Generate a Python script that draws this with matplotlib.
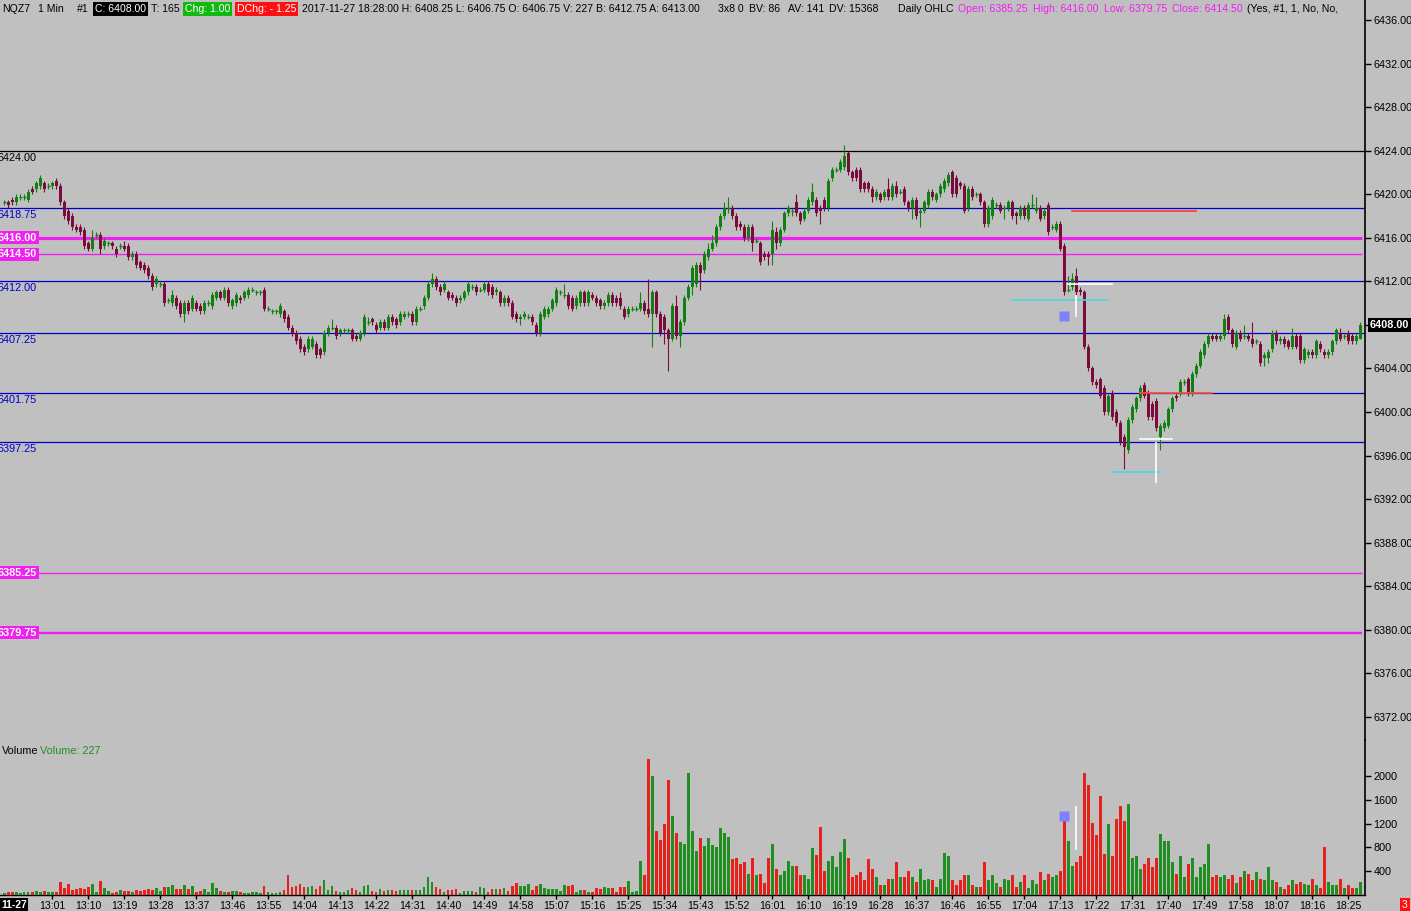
import numpy as np
import matplotlib
matplotlib.use('Agg')
import matplotlib.pyplot as plt
from matplotlib.transforms import blended_transform_factory, offset_copy

plt.rcParams['font.family'] = ['Liberation Sans', 'DejaVu Sans']

# NQZ7 1-minute bars, 12:49 .. 18:28 (2017-11-27)
opens = [
    6419.25, 6419.25, 6419.5, 6419.25, 6419.75, 6419.75, 6419.5, 6420.5, 6420.5, 6420.75,
    6421.0, 6420.75, 6420.75, 6421.25, 6420.75, 6419.25, 6418.5, 6418.0, 6417.0, 6417.0,
    6416.75, 6415.5, 6415.0, 6416.25, 6416.25, 6415.25, 6415.5, 6415.5, 6415.0, 6415.25,
    6415.25, 6415.25, 6414.25, 6414.5, 6413.75, 6413.5, 6413.25, 6412.5, 6411.75, 6411.75,
    6411.75, 6410.25, 6410.0, 6410.5, 6410.0, 6409.0, 6410.0, 6409.5, 6410.0, 6409.75,
    6409.25, 6410.0, 6409.75, 6410.5, 6411.0, 6410.5, 6411.25, 6409.75, 6410.0, 6410.5,
    6410.5, 6410.75, 6411.25, 6411.0, 6411.0, 6411.25, 6409.5, 6409.25, 6409.25, 6409.0,
    6409.25, 6408.75, 6407.75, 6407.25, 6406.75, 6406.0, 6405.75, 6406.0, 6406.25, 6405.75,
    6405.5, 6407.25, 6407.75, 6407.75, 6407.25, 6407.5, 6407.5, 6407.5, 6407.0, 6406.75,
    6407.25, 6408.25, 6408.5, 6408.0, 6407.75, 6408.25, 6407.75, 6408.75, 6408.5, 6408.25,
    6408.75, 6409.0, 6409.0, 6408.25, 6409.5, 6409.75, 6410.5, 6411.75, 6412.25, 6411.5,
    6411.25, 6411.0, 6410.75, 6410.5, 6410.25, 6410.5, 6411.0, 6411.5, 6411.5, 6411.25,
    6411.25, 6411.75, 6411.5, 6411.0, 6411.0, 6410.0, 6410.5, 6410.0, 6409.0, 6408.5,
    6408.75, 6408.75, 6408.75, 6408.0, 6407.25, 6408.75, 6409.0, 6409.5, 6410.0, 6411.0,
    6410.75, 6410.75, 6410.5, 6409.75, 6410.0, 6411.0, 6410.0, 6410.75, 6410.5, 6410.25,
    6409.75, 6410.0, 6410.75, 6410.5, 6410.5, 6409.5, 6409.0, 6409.5, 6409.5, 6409.5,
    6410.0, 6409.5, 6409.0, 6411.0, 6409.0, 6408.75, 6407.5, 6406.75, 6409.75, 6407.0,
    6408.25, 6410.5, 6411.5, 6411.75, 6413.5, 6413.0, 6414.25, 6415.0, 6415.5, 6417.0,
    6418.0, 6418.75, 6418.75, 6418.0, 6417.25, 6417.0, 6416.0, 6417.0, 6415.75, 6415.5,
    6414.5, 6414.5, 6414.5, 6416.5, 6415.5, 6416.75, 6418.25, 6418.5, 6419.25, 6418.25,
    6417.75, 6418.5, 6419.25, 6419.5, 6418.75, 6419.5, 6418.75, 6421.5, 6422.25, 6422.25,
    6422.5, 6423.75, 6422.0, 6422.25, 6422.25, 6421.0, 6421.0, 6420.5, 6419.75, 6420.0,
    6419.75, 6420.5, 6419.75, 6420.75, 6420.25, 6420.5, 6419.25, 6418.75, 6419.5, 6418.25,
    6418.5, 6419.0, 6420.25, 6419.5, 6420.0, 6420.5, 6421.0, 6422.0, 6421.5, 6421.0,
    6420.75, 6418.75, 6420.5, 6420.0, 6420.0, 6419.25, 6417.25, 6418.0, 6419.0, 6419.0,
    6418.75, 6418.75, 6419.25, 6418.25, 6418.0, 6418.75, 6417.75, 6419.0, 6418.5, 6418.75,
    6418.0, 6419.0, 6417.0, 6416.75, 6417.25, 6415.25, 6411.25, 6411.5, 6412.5, 6411.25,
    6411.0, 6406.0, 6404.0, 6402.75, 6403.0, 6402.25, 6400.0, 6401.75, 6400.0, 6399.0,
    6397.75, 6396.5, 6399.25, 6400.25, 6401.25, 6402.5, 6401.75, 6400.75, 6401.0, 6397.75,
    6398.5, 6398.75, 6400.25, 6401.5, 6401.75, 6402.75, 6403.0, 6401.75, 6403.5, 6404.25,
    6405.25, 6406.25, 6407.0, 6407.0, 6406.75, 6407.0, 6408.75, 6407.5, 6406.0, 6407.25,
    6407.0, 6407.0, 6406.75, 6406.5, 6406.25, 6405.0, 6405.0, 6405.75, 6407.25, 6406.5,
    6406.75, 6406.5, 6406.0, 6407.0, 6407.0, 6404.75, 6405.25, 6405.5, 6405.25, 6406.25,
    6405.5, 6405.25, 6405.5, 6406.5, 6407.25, 6407.0, 6407.25, 6407.0, 6406.5, 6406.75,
]
closes = [
    6419.25, 6419.0, 6419.25, 6419.75, 6419.75, 6419.75, 6420.25, 6420.25, 6421.0, 6421.5,
    6420.5, 6420.75, 6421.0, 6420.75, 6419.25, 6418.0, 6417.5, 6417.0, 6416.75, 6416.5,
    6415.25, 6415.0, 6416.0, 6416.25, 6415.0, 6415.75, 6415.5, 6415.25, 6414.5, 6415.25,
    6415.0, 6414.25, 6414.5, 6413.5, 6413.25, 6413.0, 6412.5, 6411.5, 6412.25, 6411.75,
    6410.0, 6410.25, 6410.75, 6409.75, 6409.0, 6410.0, 6409.25, 6410.5, 6409.5, 6409.25,
    6410.0, 6410.0, 6410.75, 6411.0, 6410.5, 6411.25, 6410.0, 6410.25, 6410.75, 6410.25,
    6411.0, 6411.25, 6411.25, 6411.0, 6411.0, 6409.5, 6409.5, 6409.25, 6409.25, 6409.75,
    6408.5, 6407.75, 6407.25, 6406.5, 6405.75, 6405.5, 6406.75, 6406.75, 6405.25, 6405.25,
    6407.25, 6407.75, 6407.75, 6407.0, 6407.5, 6407.5, 6407.5, 6406.75, 6406.75, 6407.25,
    6408.75, 6408.25, 6408.25, 6407.5, 6408.25, 6407.75, 6408.75, 6408.25, 6408.0, 6409.0,
    6409.0, 6409.0, 6408.25, 6409.5, 6409.5, 6410.5, 6411.75, 6412.25, 6411.5, 6411.0,
    6411.75, 6410.5, 6410.5, 6410.0, 6410.5, 6411.0, 6411.75, 6411.5, 6411.0, 6411.25,
    6411.75, 6411.0, 6410.75, 6411.25, 6410.0, 6410.5, 6410.0, 6408.75, 6408.5, 6408.75,
    6409.0, 6408.75, 6408.25, 6407.25, 6409.0, 6409.5, 6409.5, 6410.25, 6411.25, 6411.0,
    6410.75, 6409.75, 6409.5, 6410.5, 6411.0, 6410.0, 6411.0, 6410.5, 6410.0, 6409.75,
    6410.0, 6410.75, 6410.0, 6410.0, 6409.75, 6408.75, 6409.5, 6409.5, 6409.5, 6410.0,
    6409.25, 6409.0, 6411.0, 6409.0, 6407.25, 6407.5, 6406.75, 6409.75, 6407.0, 6408.25,
    6410.5, 6411.5, 6413.25, 6413.5, 6412.75, 6414.5, 6415.0, 6415.5, 6417.0, 6418.0,
    6418.75, 6418.75, 6418.0, 6417.0, 6417.0, 6416.0, 6417.0, 6415.5, 6415.75, 6413.75,
    6414.25, 6414.25, 6416.75, 6415.5, 6416.75, 6418.25, 6418.75, 6418.5, 6418.25, 6417.5,
    6418.5, 6419.5, 6420.25, 6418.25, 6418.5, 6418.75, 6421.25, 6422.25, 6422.25, 6423.0,
    6423.5, 6422.0, 6421.5, 6421.5, 6420.5, 6420.5, 6420.5, 6419.75, 6420.25, 6419.5,
    6420.25, 6419.75, 6420.75, 6420.0, 6420.25, 6419.25, 6418.75, 6419.5, 6418.0, 6418.5,
    6419.25, 6420.25, 6419.75, 6420.0, 6420.75, 6421.25, 6421.75, 6420.0, 6420.0, 6420.75,
    6418.5, 6420.5, 6419.75, 6420.0, 6419.25, 6417.25, 6418.75, 6419.5, 6419.0, 6418.5,
    6418.75, 6419.25, 6418.0, 6418.0, 6418.75, 6418.0, 6419.0, 6419.0, 6418.75, 6417.75,
    6418.5, 6416.5, 6417.0, 6417.25, 6415.0, 6411.0, 6411.25, 6412.25, 6411.0, 6411.0,
    6406.0, 6404.0, 6402.75, 6402.5, 6401.5, 6400.0, 6401.5, 6399.5, 6399.0, 6397.25,
    6396.75, 6399.25, 6400.5, 6401.25, 6402.25, 6401.5, 6399.5, 6399.5, 6398.5, 6398.75,
    6399.0, 6400.25, 6401.25, 6401.25, 6402.75, 6402.75, 6401.75, 6403.5, 6404.25, 6405.5,
    6406.25, 6407.0, 6406.75, 6406.75, 6407.0, 6408.5, 6407.5, 6406.25, 6407.25, 6406.75,
    6407.0, 6406.75, 6406.25, 6406.5, 6404.5, 6405.25, 6405.5, 6407.25, 6406.5, 6406.75,
    6406.25, 6406.0, 6407.0, 6406.0, 6404.75, 6405.75, 6405.5, 6405.25, 6406.5, 6405.75,
    6405.25, 6405.5, 6406.5, 6407.5, 6406.75, 6407.0, 6406.5, 6406.5, 6407.0, 6408.0,
]
highs = [
    6419.5, 6419.5, 6419.75, 6420.0, 6420.0, 6420.0, 6420.5, 6420.75, 6421.25, 6421.75,
    6421.25, 6421.0, 6421.25, 6421.5, 6421.0, 6419.5, 6418.75, 6418.25, 6417.25, 6417.25,
    6417.0, 6415.75, 6416.75, 6416.5, 6416.5, 6416.0, 6415.75, 6415.75, 6415.25, 6415.5,
    6415.75, 6415.5, 6414.75, 6414.75, 6414.0, 6413.75, 6413.5, 6412.75, 6412.5, 6412.0,
    6412.0, 6410.5, 6411.25, 6410.75, 6410.25, 6410.25, 6410.25, 6410.75, 6410.25, 6410.0,
    6410.25, 6410.25, 6411.0, 6411.25, 6411.25, 6411.5, 6411.5, 6410.5, 6411.0, 6410.75,
    6411.25, 6411.5, 6411.5, 6411.25, 6411.25, 6411.5, 6409.75, 6409.5, 6409.5, 6410.0,
    6409.5, 6409.0, 6408.0, 6407.5, 6407.0, 6406.25, 6407.0, 6407.0, 6406.5, 6406.0,
    6407.5, 6408.0, 6408.5, 6408.0, 6407.75, 6407.75, 6407.75, 6407.75, 6407.25, 6407.5,
    6409.0, 6408.75, 6408.75, 6408.25, 6408.5, 6408.5, 6409.0, 6409.0, 6408.75, 6409.25,
    6409.25, 6409.25, 6409.25, 6409.75, 6409.75, 6410.75, 6412.0, 6412.75, 6412.5, 6411.75,
    6412.0, 6411.25, 6411.0, 6410.75, 6410.75, 6411.25, 6412.0, 6411.75, 6411.75, 6411.5,
    6412.0, 6412.0, 6411.75, 6411.5, 6411.25, 6410.75, 6410.75, 6410.25, 6409.25, 6409.0,
    6409.25, 6409.0, 6409.0, 6408.25, 6409.25, 6409.75, 6409.75, 6410.5, 6411.5, 6411.25,
    6411.75, 6411.0, 6410.75, 6410.75, 6411.25, 6411.25, 6411.25, 6411.0, 6410.75, 6410.5,
    6410.25, 6411.0, 6411.0, 6410.75, 6411.0, 6409.75, 6409.75, 6409.75, 6409.75, 6411.0,
    6410.25, 6412.25, 6411.25, 6411.25, 6409.25, 6409.0, 6407.75, 6410.0, 6410.75, 6408.5,
    6410.75, 6411.75, 6413.5, 6413.75, 6413.75, 6414.75, 6415.5, 6416.25, 6417.25, 6418.25,
    6419.25, 6419.75, 6419.0, 6418.25, 6417.5, 6417.25, 6417.25, 6417.25, 6416.0, 6415.75,
    6414.75, 6414.75, 6417.5, 6417.0, 6417.0, 6418.5, 6419.0, 6418.75, 6420.0, 6418.5,
    6418.75, 6419.75, 6421.0, 6419.75, 6419.0, 6419.75, 6421.5, 6422.5, 6422.5, 6423.25,
    6424.5, 6424.0, 6422.25, 6422.5, 6422.5, 6421.25, 6421.25, 6420.75, 6420.5, 6420.25,
    6420.5, 6421.5, 6421.0, 6421.25, 6420.5, 6420.75, 6419.5, 6419.75, 6419.75, 6418.75,
    6419.5, 6420.5, 6420.5, 6420.25, 6421.0, 6421.5, 6422.0, 6422.25, 6421.75, 6421.25,
    6421.0, 6420.75, 6420.75, 6420.25, 6420.25, 6419.5, 6419.0, 6419.75, 6419.25, 6419.25,
    6419.0, 6419.5, 6419.5, 6418.5, 6419.0, 6419.0, 6419.25, 6420.0, 6419.75, 6419.0,
    6418.75, 6419.25, 6417.25, 6417.5, 6417.5, 6415.5, 6412.5, 6412.75, 6413.25, 6411.5,
    6411.25, 6406.25, 6404.25, 6403.0, 6403.25, 6402.5, 6401.75, 6402.0, 6400.25, 6399.25,
    6398.0, 6399.5, 6400.75, 6401.5, 6402.5, 6402.75, 6402.0, 6401.0, 6401.25, 6399.0,
    6399.25, 6400.5, 6401.5, 6401.75, 6403.0, 6403.0, 6403.25, 6403.75, 6404.5, 6405.75,
    6406.5, 6407.25, 6407.25, 6407.25, 6407.25, 6409.0, 6409.0, 6407.75, 6407.5, 6407.5,
    6408.0, 6407.25, 6408.25, 6406.75, 6406.5, 6405.5, 6405.75, 6407.5, 6407.5, 6407.0,
    6407.0, 6406.75, 6407.75, 6407.25, 6407.25, 6406.0, 6405.75, 6405.75, 6406.75, 6406.5,
    6405.75, 6405.75, 6406.75, 6407.75, 6407.75, 6407.25, 6407.5, 6407.25, 6407.25, 6408.25,
]
lows = [
    6419.0, 6418.75, 6419.0, 6419.0, 6419.5, 6419.5, 6419.25, 6420.0, 6420.25, 6420.5,
    6420.25, 6420.5, 6420.5, 6420.5, 6419.0, 6417.75, 6417.25, 6416.75, 6416.5, 6416.25,
    6415.0, 6414.75, 6414.75, 6416.0, 6414.5, 6415.0, 6415.25, 6415.0, 6414.25, 6415.0,
    6414.75, 6414.0, 6414.0, 6413.25, 6413.0, 6412.75, 6412.25, 6411.25, 6411.5, 6411.5,
    6409.75, 6410.0, 6409.75, 6409.5, 6408.75, 6408.25, 6409.0, 6409.25, 6409.25, 6409.0,
    6409.0, 6409.75, 6409.5, 6410.25, 6410.25, 6410.25, 6409.75, 6409.5, 6409.75, 6410.0,
    6410.25, 6410.5, 6411.0, 6410.75, 6410.75, 6409.25, 6409.25, 6409.0, 6409.0, 6408.75,
    6408.25, 6407.5, 6407.0, 6406.25, 6405.5, 6405.25, 6405.5, 6405.75, 6405.0, 6405.0,
    6405.25, 6407.0, 6407.5, 6406.75, 6407.0, 6407.25, 6407.25, 6406.5, 6406.5, 6406.5,
    6407.0, 6408.0, 6408.0, 6407.25, 6407.5, 6407.5, 6407.5, 6408.0, 6407.75, 6408.0,
    6408.5, 6408.75, 6408.0, 6408.0, 6409.25, 6409.5, 6410.25, 6411.5, 6411.25, 6410.75,
    6411.0, 6410.25, 6410.25, 6409.75, 6410.0, 6410.25, 6410.75, 6411.25, 6410.75, 6411.0,
    6411.0, 6410.75, 6410.5, 6410.75, 6409.75, 6409.75, 6409.75, 6408.5, 6408.25, 6408.0,
    6408.5, 6408.5, 6408.0, 6407.0, 6407.0, 6408.5, 6408.75, 6409.25, 6409.75, 6410.75,
    6410.5, 6409.5, 6409.25, 6409.5, 6409.75, 6409.75, 6409.75, 6410.25, 6409.75, 6409.5,
    6409.5, 6409.75, 6409.75, 6409.75, 6409.5, 6408.5, 6408.75, 6409.25, 6409.25, 6409.25,
    6409.0, 6408.75, 6406.0, 6408.75, 6407.0, 6406.25, 6403.75, 6406.5, 6406.75, 6406.0,
    6408.0, 6410.25, 6410.75, 6411.5, 6411.25, 6412.75, 6414.0, 6414.75, 6415.25, 6416.75,
    6417.75, 6418.25, 6417.75, 6416.75, 6416.75, 6415.75, 6415.75, 6414.75, 6415.5, 6413.5,
    6414.0, 6413.5, 6413.5, 6415.0, 6415.25, 6416.5, 6418.0, 6418.0, 6418.0, 6417.25,
    6417.5, 6418.25, 6419.0, 6418.0, 6417.25, 6418.5, 6418.5, 6421.25, 6422.0, 6422.0,
    6422.25, 6421.75, 6421.25, 6421.25, 6420.25, 6420.25, 6420.25, 6419.25, 6419.5, 6419.25,
    6419.5, 6419.5, 6419.5, 6419.75, 6420.0, 6419.0, 6418.5, 6417.75, 6417.75, 6417.0,
    6418.25, 6418.75, 6419.5, 6419.25, 6419.75, 6420.25, 6420.75, 6419.75, 6419.75, 6420.5,
    6418.25, 6418.5, 6419.5, 6419.75, 6419.0, 6417.0, 6417.0, 6417.75, 6418.75, 6418.25,
    6417.75, 6418.5, 6417.75, 6417.25, 6417.75, 6417.75, 6417.5, 6418.75, 6418.25, 6417.5,
    6417.75, 6416.25, 6416.75, 6416.5, 6414.75, 6410.75, 6411.0, 6411.25, 6410.75, 6410.75,
    6405.75, 6403.75, 6402.5, 6402.25, 6401.25, 6399.75, 6399.75, 6399.25, 6398.75, 6397.0,
    6394.75, 6396.25, 6399.0, 6400.0, 6401.0, 6401.25, 6399.25, 6399.25, 6398.25, 6396.5,
    6398.25, 6398.5, 6400.0, 6401.0, 6401.5, 6402.5, 6401.5, 6401.5, 6403.25, 6404.0,
    6405.0, 6406.0, 6406.5, 6406.5, 6406.5, 6406.75, 6407.25, 6406.0, 6405.75, 6406.5,
    6406.75, 6406.5, 6406.0, 6406.25, 6404.25, 6404.25, 6404.5, 6405.5, 6406.25, 6406.25,
    6406.0, 6405.75, 6405.75, 6405.75, 6404.5, 6404.5, 6405.0, 6405.0, 6405.0, 6405.5,
    6405.0, 6405.0, 6405.25, 6406.25, 6406.5, 6406.75, 6406.25, 6406.25, 6406.25, 6406.75,
]
volumes = [
    40, 55, 45, 50, 40, 55, 45, 50, 60, 55,
    60, 50, 45, 50, 225, 110, 185, 85, 95, 125,
    95, 140, 185, 55, 240, 125, 65, 40, 55, 85,
    75, 75, 55, 85, 75, 85, 105, 85, 120, 75,
    140, 140, 170, 105, 105, 170, 105, 150, 55, 75,
    105, 55, 195, 125, 65, 55, 55, 65, 65, 55,
    40, 40, 50, 50, 40, 150, 55, 40, 40, 55,
    85, 335, 140, 150, 185, 140, 140, 150, 105, 150,
    250, 85, 150, 75, 55, 55, 85, 120, 85, 55,
    155, 170, 75, 55, 100, 75, 85, 85, 75, 80,
    85, 85, 85, 85, 85, 140, 310, 225, 140, 100,
    55, 85, 85, 100, 40, 65, 65, 65, 55, 130,
    120, 55, 95, 105, 95, 110, 75, 150, 195, 150,
    150, 185, 85, 150, 185, 120, 95, 105, 105, 65,
    170, 150, 170, 55, 85, 85, 55, 55, 110, 95,
    130, 125, 125, 55, 130, 140, 235, 55, 75, 570,
    335, 2290, 2000, 1080, 925, 1195, 1940, 1330, 1050, 900,
    860, 2050, 1080, 745, 965, 825, 965, 835, 810, 1135,
    1040, 970, 600, 615, 515, 550, 360, 615, 345, 360,
    205, 630, 855, 430, 330, 410, 565, 480, 480, 345,
    330, 275, 795, 680, 1150, 410, 565, 650, 465, 720,
    940, 615, 295, 330, 380, 245, 600, 430, 295, 160,
    175, 275, 275, 550, 310, 295, 410, 295, 225, 430,
    245, 275, 260, 140, 275, 700, 650, 260, 175, 245,
    330, 345, 175, 140, 140, 550, 245, 330, 210, 140,
    275, 245, 330, 140, 225, 330, 125, 245, 190, 395,
    245, 360, 310, 330, 410, 1250, 910, 485, 550, 665,
    2055, 1855, 1210, 1005, 1670, 685, 1190, 650, 1275, 1495,
    1245, 1530, 630, 650, 430, 530, 615, 465, 630, 1020,
    905, 905, 550, 360, 665, 295, 515, 615, 310, 465,
    530, 855, 310, 330, 310, 345, 275, 345, 210, 310,
    410, 360, 260, 380, 275, 260, 465, 245, 225, 140,
    100, 160, 245, 190, 225, 190, 160, 275, 160, 125,
    800, 225, 160, 175, 275, 125, 175, 125, 125, 227,
]

time_ticks = list(range(12, 340, 9))
time_labels = ['%d:%02d' % divmod(12 * 60 + 49 + i, 60) for i in time_ticks]

blue_levels = [6418.75, 6412.00, 6407.25, 6401.75, 6397.25]
black_level = 6424.00
daily_levels = [6416.00, 6414.50, 6385.25, 6379.75]
daily_widths = [2.3, 1.0, 1.0, 1.7]

# trade marks drawn on the chart (bar index, price)
seg_x0 = [266.9, 265.9, 251.9, 283.9, 283.9, 276.9]
seg_x1 = [297.9, 276.9, 275.9, 301.9, 291.9, 288.9]
seg_y = [6418.5, 6411.75, 6410.25, 6401.75, 6397.5, 6394.5]
seg_colors = ['#ff3838', 'white', '#48d8e0', '#ff5030', 'white', '#48d8e0']
vert_x = [267.9, 287.9]
vert_lo = [6408.75, 6393.5]
vert_hi = [6410.75, 6397.25]
square_x, square_y, square_vol = 264.9, 6408.8, 1330
vol_mark_x, vol_mark_lo, vol_mark_hi = 267.9, 760, 1500

assert len(opens) == len(closes) == len(highs) == len(lows) == len(volumes) == 340

o = np.array(opens)
c = np.array(closes)
h = np.array(highs)
l = np.array(lows)
v = np.array(volumes)
x = np.arange(len(o))

BG = '#c0c0c0'
GREEN = '#118011'
MAROON = '#7a0c3c'
VGREEN = '#1f901f'
VRED = '#e8201c'
MAG = '#f020f0'
BLUE = '#0000c8'
FS = 7.8

W, H = 1411, 911
fig = plt.figure(figsize=(W / 100, H / 100), dpi=100, facecolor=BG)


def px_rect(x0, y0, x1, y1):
    return [x0 / W, 1 - y1 / H, (x1 - x0) / W, (y1 - y0) / H]


ax = fig.add_axes(px_rect(0, 0, 1365, 740), facecolor=BG)
axv = fig.add_axes(px_rect(0, 740, 1365, 895), facecolor=BG, sharex=ax)

xlim = (-1.1, 340.15)
ax.set_xlim(*xlim)
ax.set_ylim(6436 - 720 / 10.89, 6436 + 20 / 10.89)
axv.set_ylim(0, 155 * 16.84)

for a in (ax, axv):
    for s in a.spines.values():
        s.set_visible(False)
    a.spines['right'].set_visible(True)
    a.spines['right'].set_color('black')
    a.spines['right'].set_linewidth(1.2)
axv.spines['bottom'].set_visible(True)
axv.spines['bottom'].set_linewidth(1.0)

# level lines
ax.axhline(black_level, color='black', lw=0.9, zorder=1)
for lv in blue_levels:
    ax.axhline(lv, color=BLUE, lw=0.9, zorder=1)
for lv, lw in zip(daily_levels, daily_widths):
    ax.plot([xlim[0], 339.5], [lv, lv], color=MAG, lw=lw, zorder=1, solid_capstyle='butt')

# candles
up = c > o
flat = c == o
cols = np.where(up | flat, GREEN, MAROON)
ax.vlines(x, l, h, colors=cols, lw=0.8, zorder=3)
body = np.abs(c - o)
ax.bar(x[~flat], body[~flat], bottom=np.minimum(o, c)[~flat], width=0.75,
       color=cols[~flat], lw=0, zorder=4)
ax.hlines(c[flat], x[flat] - 0.4, x[flat] + 0.4, colors=cols[flat], lw=1.0, zorder=4)

# trade marks
for x0, x1, y, col in zip(seg_x0, seg_x1, seg_y, seg_colors):
    ax.plot([x0, x1], [y, y], color=col, lw=1.2, zorder=5)
ax.vlines(vert_x, vert_lo, vert_hi, colors='white', lw=1.2, zorder=5)
ax.plot([square_x], [square_y], marker='s', ms=7, color='#8080ff', mec='none', zorder=6)

# level labels at the left edge (first digit clipped by the window edge, as in the app)
lbl_tr = blended_transform_factory(ax.transAxes, ax.transData)
below = offset_copy(lbl_tr, fig=fig, x=-2, y=-7, units='dots')
ax.text(0, black_level, '%.2f' % black_level, transform=below, ha='left', va='center',
        fontsize=FS, color='black', zorder=7)
for lv in blue_levels:
    ax.text(0, lv, '%.2f' % lv, transform=below, ha='left', va='center',
            fontsize=FS, color=BLUE, zorder=7)
shift = offset_copy(lbl_tr, fig=fig, x=-2, y=0, units='dots')
for lv in daily_levels:
    ax.text(0, lv, '%.2f' % lv, transform=shift, ha='left', va='center', fontsize=FS,
            color='white', fontweight='bold', zorder=7,
            bbox=dict(boxstyle='square,pad=0.15', fc=MAG, ec='none'))

# price axis
price_ticks = np.arange(6372, 6437, 4)
ax.yaxis.tick_right()
ax.set_yticks(price_ticks)
ax.set_yticklabels(['' if t == c[-1] else '%.2f' % t for t in price_ticks])
ax.tick_params(axis='y', direction='out', length=4, width=1, pad=2, labelsize=FS,
               colors='black')
ax.tick_params(axis='x', bottom=False, labelbottom=False)
ax.text(1.0, c[-1], '%.2f' % c[-1],
        transform=offset_copy(lbl_tr, fig=fig, x=5, y=0, units='dots'),
        ha='left', va='center', fontsize=FS, color='white', fontweight='bold', zorder=8,
        bbox=dict(boxstyle='square,pad=0.15', fc='black', ec='none'), clip_on=False)

# volume
vcols = np.where(c >= o, VGREEN, VRED)
axv.bar(x, v, width=0.55, color=vcols, lw=0, zorder=3)
axv.plot([square_x], [square_vol], marker='s', ms=7, color='#8080ff', mec='none', zorder=6)
axv.vlines([vol_mark_x], [vol_mark_lo], [vol_mark_hi], colors='white', lw=1.2, zorder=5)
axv.yaxis.tick_right()
axv.set_yticks([400, 800, 1200, 1600, 2000])
axv.set_yticklabels(['400', '800', '1200', '1600', '2000'])
axv.tick_params(axis='y', direction='out', length=4, width=1, pad=2, labelsize=FS)
axv.set_xticks(time_ticks)
axv.set_xticklabels(time_labels)
axv.tick_params(axis='x', direction='out', length=3, width=1, pad=1, labelsize=7.6)
axv.text(2 / 1365, (895 - 751) / 155, 'Volume', transform=axv.transAxes, ha='left',
         va='center', fontsize=FS, color='black')
axv.text(40 / 1365, (895 - 751) / 155, 'Volume: %d' % v[-1], transform=axv.transAxes,
         ha='left', va='center', fontsize=FS, color=VGREEN)

fig.text(1 / W, 1 - 905 / H, '11-27', ha='left', va='center', fontsize=7.5, color='white',
         fontweight='bold', bbox=dict(boxstyle='square,pad=0.15', fc='black', ec='none'))
fig.text(1402 / W, 1 - 905 / H, '3', ha='left', va='center', fontsize=7.5, color='white',
         bbox=dict(boxstyle='square,pad=0.2', fc='#ff1010', ec='none'))

# header line: (left px in the reference, text, colour, box colour)
header = [
    (2, 'NQZ7', 'black', None), (38, '1 Min', 'black', None),
    (77, '#1', 'black', None), (95, 'C: 6408.00', 'white', 'black'),
    (151, 'T: 165', 'black', None), (185, 'Chg: 1.00', 'white', '#10b810'),
    (237, 'DChg: - 1.25', 'white', '#ff1010'),
    (300, '2017-11-27 18:28:00 H: 6408.25 L: 6406.75 O: 6406.75 V: 227 '
          'B: 6412.75 A: 6413.00', 'black', None),
    (718, '3x8 0', 'black', None), (747, 'BV: 86', 'black', None),
    (788, 'AV: 141', 'black', None), (829, 'DV: 15368', 'black', None),
    (898, 'Daily OHLC', 'black', None),
    (950, 'Open: 6385.25', MAG, None), (1015, 'High: 6416.00', MAG, None),
    (1083, 'Low: 6379.75', MAG, None), (1148, 'Close: 6414.50', MAG, None),
    (1222, '(Yes, #1, 1, No, No,', 'black', None),
]
renderer = fig.canvas.get_renderer()
prev_end = -100
for hx, txt, col, box in header:
    hx = max(hx, prev_end + 5)
    t = fig.text(hx / W, 1 - 9 / H, txt, ha='left', va='center', fontsize=7.6, color=col)
    prev_end = hx + t.get_window_extent(renderer).width
    if box:
        t.set_bbox(dict(boxstyle='square,pad=0.15', fc=box, ec='none'))

fig.savefig('out.png', dpi=100, facecolor=BG)
